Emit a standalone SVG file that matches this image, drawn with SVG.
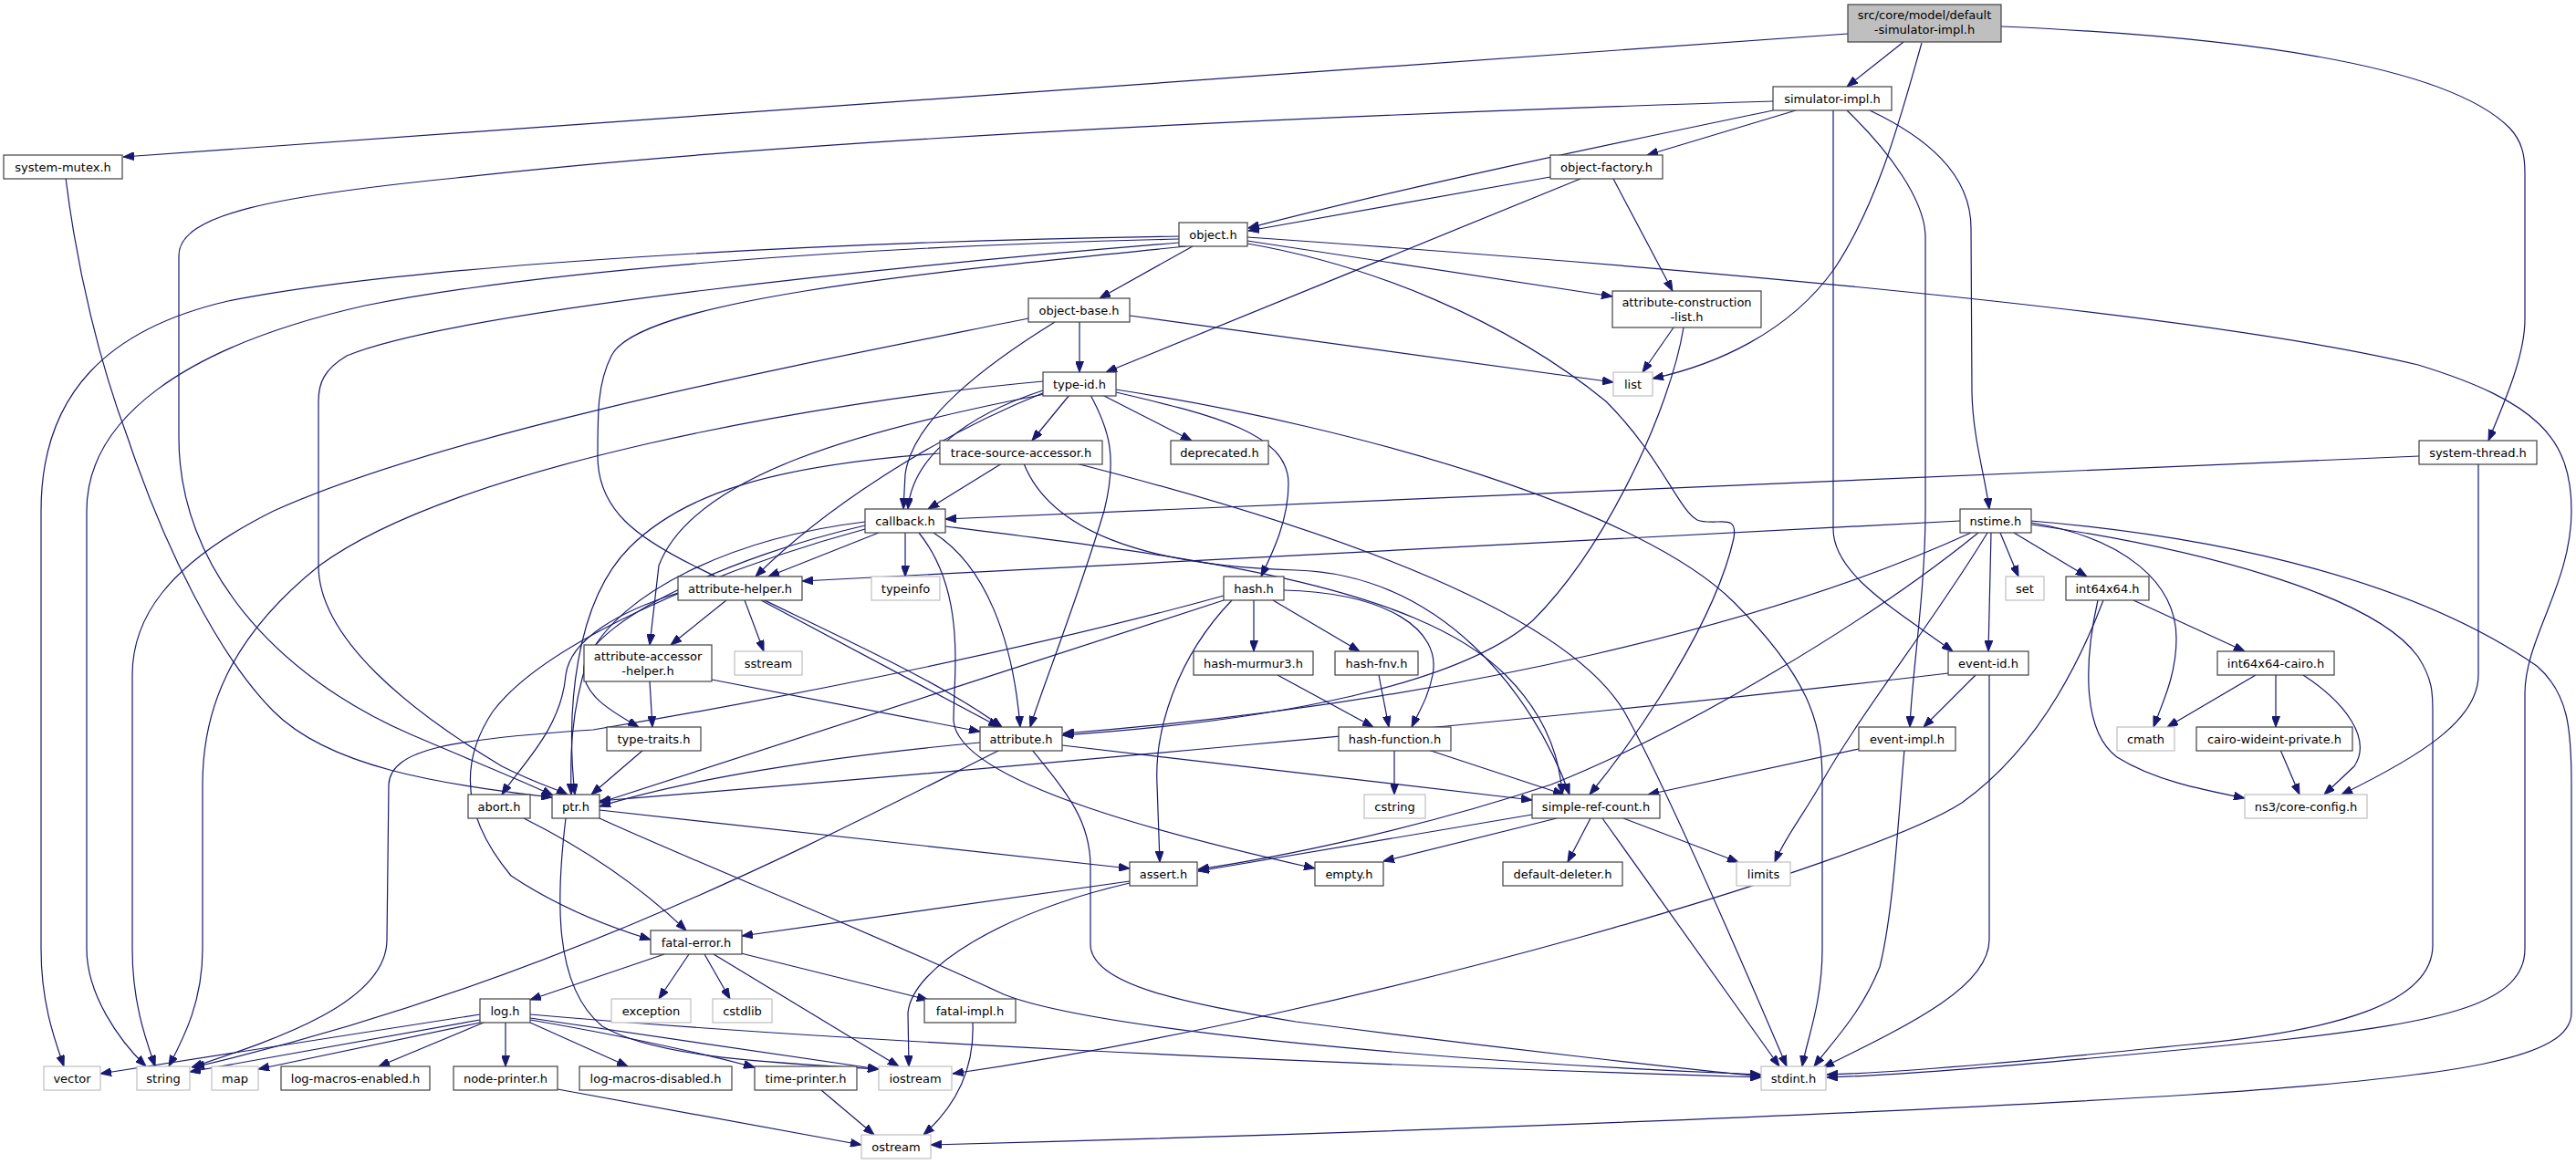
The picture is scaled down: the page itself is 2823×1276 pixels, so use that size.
<svg xmlns="http://www.w3.org/2000/svg" width="2823" height="1276" viewBox="0 0 2823 1276">
<defs>
<marker id="a" viewBox="0 0 12 9" refX="12" refY="4.5" markerWidth="12" markerHeight="9" markerUnits="userSpaceOnUse" orient="auto"><path d="M0,0 L12,4.5 L0,9 z" fill="#191970" stroke="#191970" stroke-width="1"/></marker>
</defs>
<style>
.node rect{fill:#ffffff;stroke:#404040;stroke-width:1.2}
.ext rect{fill:#ffffff;stroke:#bfbfbf;stroke-width:1.2}
.root rect{fill:#bfbfbf;stroke:#404040;stroke-width:1.2}
text{font-family:"DejaVu Sans","Liberation Sans",sans-serif;font-size:13px;text-anchor:middle;fill:#000000}
#edges path{fill:none;stroke:#191970;stroke-width:1.2;marker-end:url(#a)}
</style>
<rect width="2823" height="1276" fill="#ffffff"/>
<g id="edges">
<path d="M2025,37 L135,172"/>
<path d="M2086,46 L2024,95"/>
<path d="M2106,47 C2085,120 2060,220 2010,295 C1960,365 1880,400 1811,415"/>
<path d="M2193,29 C2450,40 2680,70 2750,140 C2764,155 2767,170 2767,190 L2767,350 C2767,390 2745,440 2727,483"/>
<path d="M1968,121 L1805,170"/>
<path d="M1943,121 C1780,155 1560,200 1368,250"/>
<path d="M1943,111 C1500,125 900,150 500,195 C300,215 196,235 196,280 L196,480 C196,620 300,740 450,805 C520,835 570,855 606,872"/>
<path d="M2009,121 L2009,580 C2009,630 2080,670 2140,714"/>
<path d="M2024,121 C2070,165 2110,220 2110,260 L2110,560 C2110,650 2095,740 2093,797"/>
<path d="M2049,121 C2110,150 2160,190 2160,250 L2161,430 C2162,480 2175,520 2180,558"/>
<path d="M72,195 C85,300 110,400 140,480 C180,600 240,720 300,780 C360,840 480,860 605,874"/>
<path d="M1699,194 L1368,253"/>
<path d="M1732,196 L1212,408"/>
<path d="M1768,196 L1833,319"/>
<path d="M1307,270 L1205,327"/>
<path d="M1367,264 L1767,325"/>
<path d="M1367,260 C1800,290 2400,340 2650,400 C2780,440 2818,480 2818,560 C2818,640 2767,700 2767,760 L2767,1040 C2767,1100 2680,1120 2500,1140 C2300,1160 2100,1178 2002,1181"/>
<path d="M1367,267 C1500,290 1650,350 1760,440 C1820,500 1840,560 1860,570 C1880,578 1905,560 1900,590 C1880,680 1800,800 1742,871"/>
<path d="M1292,259 C900,265 450,290 250,330 C120,360 45,430 45,560 L45,1040 C45,1100 60,1140 70,1169"/>
<path d="M1292,262 C950,270 600,295 400,335 C200,380 95,460 95,560 L95,1040 C95,1090 130,1140 160,1169"/>
<path d="M1292,266 C1000,290 500,340 380,390 C355,405 349,420 349,440 L349,620 C349,700 450,780 550,840 C590,860 610,865 622,871"/>
<path d="M1300,270 C1000,300 700,330 670,390 C655,420 655,450 655,500 C655,560 700,590 760,620 C900,690 1020,740 1098,797"/>
<path d="M1183,352 L1183,408"/>
<path d="M1156,353 C1080,400 1000,460 992,520 L990,558"/>
<path d="M1238,346 L1768,419"/>
<path d="M1127,349 C900,395 500,470 300,560 C180,620 145,680 145,740 L145,1040 C145,1100 160,1140 170,1169"/>
<path d="M1834,359 L1800,408"/>
<path d="M1845,359 C1830,450 1760,600 1680,680 C1600,750 1400,790 1164,806"/>
<path d="M1172,433 L1131,483"/>
<path d="M1208,433 L1306,483"/>
<path d="M1195,433 C1215,470 1225,500 1210,560 C1180,660 1140,760 1129,797"/>
<path d="M1223,430 C1330,455 1412,475 1412,530 C1412,570 1395,605 1382,632"/>
<path d="M1223,427 C1500,470 1800,560 1900,660 C1990,750 1997,800 1997,860 L1997,1040 C1997,1100 1980,1140 1975,1169"/>
<path d="M1143,428 C1060,455 1000,500 995,558"/>
<path d="M1145,430 C1020,480 900,560 828,632"/>
<path d="M1145,432 C950,470 760,520 722,620 L712,707"/>
<path d="M1143,418 C900,440 500,510 350,620 C250,700 222,780 222,860 L222,1040 C222,1100 200,1140 185,1169"/>
<path d="M1098,508 L1017,558"/>
<path d="M1030,497 C850,510 750,540 690,600 C630,660 620,780 630,871"/>
<path d="M1122,508 C1150,580 1250,620 1420,625 C1580,630 1680,760 1720,871"/>
<path d="M1179,508 C1500,590 1720,680 1780,780 C1830,870 1920,1080 1958,1169"/>
<path d="M2651,500 L1036,569"/>
<path d="M2716,508 L2716,740 C2716,790 2650,830 2566,871"/>
<path d="M963,584 L842,632"/>
<path d="M992,584 L992,632"/>
<path d="M1023,584 C1080,620 1110,700 1118,797"/>
<path d="M1007,584 C1060,650 1045,740 1045,790 C1050,860 1300,920 1441,952"/>
<path d="M1036,577 C1300,610 1550,640 1650,740 C1700,790 1710,840 1712,871"/>
<path d="M948,572 C800,590 680,650 645,720 C625,780 625,830 626,871"/>
<path d="M948,576 C800,610 650,680 640,730 C635,760 670,780 700,797"/>
<path d="M948,580 C800,620 600,700 540,780 C500,840 510,900 560,960 C620,1000 680,1020 713,1030"/>
<path d="M2182,584 L2179,714"/>
<path d="M2192,584 L2212,632"/>
<path d="M2207,584 L2287,632"/>
<path d="M2226,573 C2330,590 2385,640 2385,700 C2385,740 2370,770 2360,797"/>
<path d="M2226,575 C2400,600 2600,650 2650,720 C2666,745 2666,760 2666,780 L2666,1036 C2666,1100 2560,1130 2400,1145 C2250,1160 2100,1175 2002,1178"/>
<path d="M2226,571 C2450,590 2650,640 2780,730 C2815,760 2818,800 2818,860 L2818,1110 C2818,1160 2700,1180 2400,1200 C2000,1225 1400,1245 1020,1255"/>
<path d="M2148,571 L879,637"/>
<path d="M2160,584 C1950,680 1600,770 1165,804"/>
<path d="M2168,584 C2050,680 1850,800 1700,860 C1550,910 1400,940 1313,953"/>
<path d="M2178,584 C2120,680 2040,780 1995,860 C1975,895 1955,920 1945,945"/>
<path d="M2135,738 C1700,790 1000,850 657,878"/>
<path d="M2165,740 L2108,797"/>
<path d="M2180,740 L2180,1030 C2180,1080 2100,1120 1998,1170"/>
<path d="M2037,821 L1806,871"/>
<path d="M2087,822 C2080,900 2075,1000 2060,1060 C2040,1110 2010,1140 1988,1169"/>
<path d="M2338,658 L2460,714"/>
<path d="M2305,658 C2270,750 2220,830 2150,880 C2050,945 1500,1110 1044,1177"/>
<path d="M2299,658 C2285,720 2280,800 2320,830 C2360,855 2410,865 2460,875"/>
<path d="M2472,740 L2375,797"/>
<path d="M2494,740 L2494,797"/>
<path d="M2524,740 C2570,770 2600,810 2580,840 L2547,871"/>
<path d="M2499,822 L2520,871"/>
<path d="M796,658 L735,707"/>
<path d="M816,658 L837,714"/>
<path d="M834,658 L1095,797"/>
<path d="M743,650 C680,670 625,700 620,740 C615,800 570,840 550,871"/>
<path d="M712,747 L715,797"/>
<path d="M780,745 L1074,802"/>
<path d="M1374,658 L1374,714"/>
<path d="M1395,658 L1490,714"/>
<path d="M1407,647 C1520,650 1580,690 1570,740 C1565,765 1555,780 1547,797"/>
<path d="M1341,653 C1100,720 800,775 650,800 C500,810 428,820 426,860 L424,1030 C424,1100 300,1140 210,1170"/>
<path d="M1341,658 L657,880"/>
<path d="M1350,658 C1290,720 1265,800 1268,860 L1271,945"/>
<path d="M1400,740 L1505,797"/>
<path d="M1511,740 L1522,797"/>
<path d="M1528,822 L1528,871"/>
<path d="M1565,822 L1714,871"/>
<path d="M705,822 L648,871"/>
<path d="M1074,814 C900,830 750,855 657,884"/>
<path d="M1164,817 L1679,877"/>
<path d="M1096,822 C900,920 600,1080 212,1170"/>
<path d="M1131,822 C1170,870 1195,900 1195,950 L1195,1035 C1195,1080 1300,1100 1420,1120 C1650,1150 1850,1172 1930,1180"/>
<path d="M657,888 L1238,952"/>
<path d="M620,897 C610,980 605,1080 660,1125 C720,1160 850,1165 963,1172"/>
<path d="M657,897 C750,940 950,1020 1100,1090 C1200,1130 1600,1165 1930,1178"/>
<path d="M1679,893 L1313,955"/>
<path d="M1706,897 L1516,944"/>
<path d="M1743,897 L1718,945"/>
<path d="M1779,897 L1905,945"/>
<path d="M1756,897 L1950,1169"/>
<path d="M1238,966 L813,1026"/>
<path d="M1238,968 C1100,1000 1000,1060 995,1110 L996,1169"/>
<path d="M728,1046 L581,1096"/>
<path d="M755,1046 L722,1095"/>
<path d="M772,1046 L800,1095"/>
<path d="M782,1046 L985,1169"/>
<path d="M812,1045 L1017,1096"/>
<path d="M1066,1121 C1068,1170 1050,1210 1012,1244"/>
<path d="M526,1112 L110,1177"/>
<path d="M526,1118 L208,1175"/>
<path d="M526,1121 L283,1172"/>
<path d="M530,1121 L415,1169"/>
<path d="M554,1121 L554,1169"/>
<path d="M581,1121 L688,1169"/>
<path d="M581,1118 C680,1135 770,1155 827,1170"/>
<path d="M581,1116 L963,1172"/>
<path d="M581,1112 C900,1140 1400,1165 1930,1181"/>
<path d="M611,1194 L944,1255"/>
<path d="M900,1195 L958,1244"/>
<path d="M574,897 C640,930 700,970 752,1020"/>
</g>
<g id="n_root" class="root"><rect x="2025" y="5" width="168" height="41"/><text x="2109" y="21">src/core/model/default</text><text x="2109" y="37">-simulator-impl.h</text></g>
<g id="n_simulator_impl" class="node"><rect x="1943" y="95" width="130" height="26"/><text x="2008" y="112.5">simulator-impl.h</text></g>
<g id="n_system_mutex" class="node"><rect x="4" y="170" width="130" height="26"/><text x="69" y="187.5">system-mutex.h</text></g>
<g id="n_object_factory" class="node"><rect x="1699" y="170" width="123" height="26"/><text x="1760.5" y="187.5">object-factory.h</text></g>
<g id="n_object" class="node"><rect x="1292" y="244" width="75" height="26"/><text x="1329.5" y="261.5">object.h</text></g>
<g id="n_object_base" class="node"><rect x="1127" y="327" width="111" height="26"/><text x="1182.5" y="344.5">object-base.h</text></g>
<g id="n_attr_constr_list" class="node"><rect x="1767" y="319" width="163" height="40"/><text x="1848.5" y="336">attribute-construction</text><text x="1848.5" y="352">-list.h</text></g>
<g id="n_type_id" class="node"><rect x="1143" y="408" width="80" height="26"/><text x="1183" y="425.5">type-id.h</text></g>
<g id="n_list" class="ext"><rect x="1768" y="408" width="43" height="26"/><text x="1789.5" y="425.5">list</text></g>
<g id="n_trace_source_accessor" class="node"><rect x="1030" y="483" width="178" height="26"/><text x="1119" y="500.5">trace-source-accessor.h</text></g>
<g id="n_deprecated" class="node"><rect x="1283" y="483" width="107" height="26"/><text x="1336.5" y="500.5">deprecated.h</text></g>
<g id="n_system_thread" class="node"><rect x="2651" y="483" width="129" height="26"/><text x="2715.5" y="500.5">system-thread.h</text></g>
<g id="n_callback" class="node"><rect x="948" y="558" width="88" height="26"/><text x="992" y="575.5">callback.h</text></g>
<g id="n_nstime" class="node"><rect x="2148" y="558" width="78" height="26"/><text x="2187" y="575.5">nstime.h</text></g>
<g id="n_attribute_helper" class="node"><rect x="743" y="632" width="136" height="26"/><text x="811" y="649.5">attribute-helper.h</text></g>
<g id="n_typeinfo" class="ext"><rect x="955" y="632" width="75" height="26"/><text x="992.5" y="649.5">typeinfo</text></g>
<g id="n_hash" class="node"><rect x="1341" y="632" width="66" height="26"/><text x="1374" y="649.5">hash.h</text></g>
<g id="n_set" class="ext"><rect x="2198" y="632" width="42" height="26"/><text x="2219" y="649.5">set</text></g>
<g id="n_int64x64" class="node"><rect x="2264" y="632" width="91" height="26"/><text x="2309.5" y="649.5">int64x64.h</text></g>
<g id="n_attr_accessor_helper" class="node"><rect x="640" y="707" width="140" height="40"/><text x="710" y="724">attribute-accessor</text><text x="710" y="740">-helper.h</text></g>
<g id="n_sstream" class="ext"><rect x="805" y="714" width="74" height="26"/><text x="842" y="731.5">sstream</text></g>
<g id="n_hash_murmur3" class="node"><rect x="1308" y="714" width="131" height="26"/><text x="1373.5" y="731.5">hash-murmur3.h</text></g>
<g id="n_hash_fnv" class="node"><rect x="1463" y="714" width="91" height="26"/><text x="1508.5" y="731.5">hash-fnv.h</text></g>
<g id="n_event_id" class="node"><rect x="2135" y="714" width="88" height="26"/><text x="2179" y="731.5">event-id.h</text></g>
<g id="n_int64x64_cairo" class="node"><rect x="2430" y="714" width="128" height="26"/><text x="2494" y="731.5">int64x64-cairo.h</text></g>
<g id="n_type_traits" class="node"><rect x="665" y="797" width="103" height="26"/><text x="716.5" y="814.5">type-traits.h</text></g>
<g id="n_attribute" class="node"><rect x="1074" y="797" width="90" height="26"/><text x="1119" y="814.5">attribute.h</text></g>
<g id="n_hash_function" class="node"><rect x="1467" y="797" width="123" height="26"/><text x="1528.5" y="814.5">hash-function.h</text></g>
<g id="n_event_impl" class="node"><rect x="2037" y="797" width="106" height="26"/><text x="2090" y="814.5">event-impl.h</text></g>
<g id="n_cmath" class="ext"><rect x="2320" y="797" width="63" height="26"/><text x="2351.5" y="814.5">cmath</text></g>
<g id="n_cairo_wideint_private" class="node"><rect x="2407" y="797" width="171" height="26"/><text x="2492.5" y="814.5">cairo-wideint-private.h</text></g>
<g id="n_abort" class="node"><rect x="513" y="871" width="68" height="26"/><text x="547" y="888.5">abort.h</text></g>
<g id="n_ptr" class="node"><rect x="605" y="871" width="52" height="26"/><text x="631" y="888.5">ptr.h</text></g>
<g id="n_cstring" class="ext"><rect x="1495" y="871" width="67" height="26"/><text x="1528.5" y="888.5">cstring</text></g>
<g id="n_simple_ref_count" class="node"><rect x="1679" y="871" width="140" height="26"/><text x="1749" y="888.5">simple-ref-count.h</text></g>
<g id="n_core_config" class="ext"><rect x="2460" y="871" width="134" height="26"/><text x="2527" y="888.5">ns3/core-config.h</text></g>
<g id="n_assert" class="node"><rect x="1238" y="945" width="74" height="26"/><text x="1275" y="962.5">assert.h</text></g>
<g id="n_empty" class="node"><rect x="1441" y="945" width="75" height="26"/><text x="1478.5" y="962.5">empty.h</text></g>
<g id="n_default_deleter" class="node"><rect x="1647" y="945" width="131" height="26"/><text x="1712.5" y="962.5">default-deleter.h</text></g>
<g id="n_limits" class="ext"><rect x="1903" y="945" width="59" height="26"/><text x="1932.5" y="962.5">limits</text></g>
<g id="n_fatal_error" class="node"><rect x="713" y="1020" width="100" height="26"/><text x="763" y="1037.5">fatal-error.h</text></g>
<g id="n_log" class="node"><rect x="526" y="1095" width="55" height="26"/><text x="553.5" y="1112.5">log.h</text></g>
<g id="n_exception" class="ext"><rect x="670" y="1095" width="87" height="26"/><text x="713.5" y="1112.5">exception</text></g>
<g id="n_cstdlib" class="ext"><rect x="781" y="1095" width="65" height="26"/><text x="813.5" y="1112.5">cstdlib</text></g>
<g id="n_fatal_impl" class="node"><rect x="1013" y="1095" width="100" height="26"/><text x="1063" y="1112.5">fatal-impl.h</text></g>
<g id="n_vector" class="ext"><rect x="48" y="1169" width="62" height="26"/><text x="79" y="1186.5">vector</text></g>
<g id="n_string" class="ext"><rect x="150" y="1169" width="58" height="26"/><text x="179" y="1186.5">string</text></g>
<g id="n_map" class="ext"><rect x="232" y="1169" width="51" height="26"/><text x="257.5" y="1186.5">map</text></g>
<g id="n_log_macros_enabled" class="node"><rect x="308" y="1169" width="163" height="26"/><text x="389.5" y="1186.5">log-macros-enabled.h</text></g>
<g id="n_node_printer" class="node"><rect x="497" y="1169" width="114" height="26"/><text x="554" y="1186.5">node-printer.h</text></g>
<g id="n_log_macros_disabled" class="node"><rect x="635" y="1169" width="167" height="26"/><text x="718.5" y="1186.5">log-macros-disabled.h</text></g>
<g id="n_time_printer" class="node"><rect x="827" y="1169" width="112" height="26"/><text x="883" y="1186.5">time-printer.h</text></g>
<g id="n_iostream" class="ext"><rect x="963" y="1169" width="80" height="26"/><text x="1003" y="1186.5">iostream</text></g>
<g id="n_stdint" class="ext"><rect x="1930" y="1169" width="71" height="26"/><text x="1965.5" y="1186.5">stdint.h</text></g>
<g id="n_ostream" class="ext"><rect x="944" y="1244" width="76" height="26"/><text x="982" y="1261.5">ostream</text></g>
</svg>
